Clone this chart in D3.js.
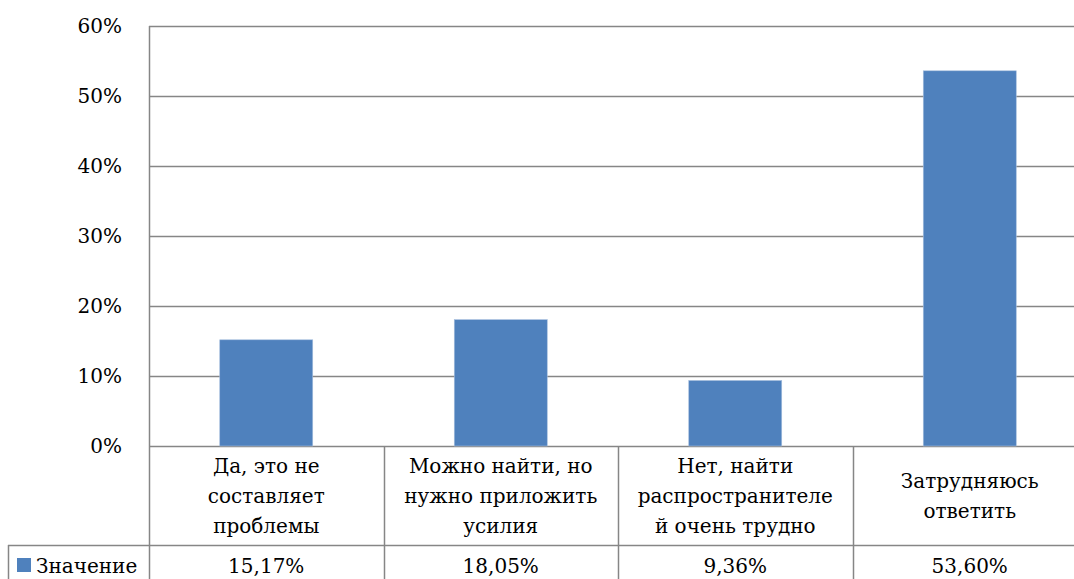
<!DOCTYPE html>
<html>
<head>
<meta charset="utf-8">
<script src="https://cdn.jsdelivr.net/npm/d3@7"></script>
<style>
  html, body { margin: 0; padding: 0; background: #fff; overflow: hidden; }
  svg { display: block; }
</style>
</head>
<body>
<script>
// Survey answers: can distributors be found?
const categories = [
  ["Да, это не", "составляет", "проблемы"],
  ["Можно найти, но", "нужно приложить", "усилия"],
  ["Нет, найти", "распространителе", "й очень трудно"],
  ["Затрудняюсь", "ответить"]
];
const values = [15.17, 18.05, 9.36, 53.60];
const valueLabels = ["15,17%", "18,05%", "9,36%", "53,60%"];
const seriesName = "Значение";
const yTicks = [0, 10, 20, 30, 40, 50, 60];

const W = 1074, H = 579;
const plot = { left: 149, right: 1087, top: 26, bottom: 446 };
const tableRow1 = 545, tableLeft = 8, tableBottom = 600;
const gridColor = "#868686";
const barColor = "#4F81BD";
const fontSize = 20;
const fontFamily = "DejaVu Serif";

const svg = d3.select("body").append("svg").attr("width", W).attr("height", H)
  .style("font-family", fontFamily);

const x = d3.scaleBand()
  .domain(d3.range(categories.length))
  .range([plot.left, plot.right])
  .paddingInner(0).paddingOuter(0);

const y = d3.scaleLinear().domain([0, 60]).range([plot.bottom, plot.top]);

// horizontal gridlines
svg.append("g").selectAll("line").data(yTicks).join("line")
  .attr("x1", plot.left).attr("x2", plot.right)
  .attr("y1", d => Math.round(y(d)) + 0.5).attr("y2", d => Math.round(y(d)) + 0.5)
  .attr("stroke", gridColor).attr("stroke-width", 1.5);

// y-axis labels
svg.append("g").selectAll("text").data(yTicks).join("text")
  .attr("x", 122).attr("y", d => y(d))
  .attr("dy", "0.35em")
  .attr("text-anchor", "end")
  .style("font-family", fontFamily)
  .attr("font-size", fontSize)
  .text(d => d + "%");

// bars
const barW = 93;
svg.append("g").selectAll("rect").data(values).join("rect")
  .attr("x", (d, i) => x(i) + x.bandwidth() / 2 - barW / 2)
  .attr("width", barW)
  .attr("y", d => y(d))
  .attr("height", d => plot.bottom - y(d))
  .attr("fill", barColor)
  .attr("stroke", "#A7BFDE").attr("stroke-width", 0.6);

// data table lines
const tbl = svg.append("g").attr("stroke", gridColor).attr("stroke-width", 1.5);
tbl.append("line").attr("x1", plot.left + 0.5).attr("x2", plot.left + 0.5)
  .attr("y1", plot.top).attr("y2", tableBottom);
d3.range(1, categories.length).forEach(i => {
  const xx = Math.round(x(i)) + 0.5;
  tbl.append("line").attr("x1", xx).attr("x2", xx)
    .attr("y1", plot.bottom).attr("y2", tableBottom);
});
tbl.append("line").attr("x1", tableLeft).attr("x2", plot.right)
  .attr("y1", tableRow1 + 0.5).attr("y2", tableRow1 + 0.5);
tbl.append("line").attr("x1", tableLeft + 0.5).attr("x2", tableLeft + 0.5)
  .attr("y1", tableRow1).attr("y2", tableBottom);

// category labels
const lineH = 30;
categories.forEach((lines, i) => {
  const cx = x(i) + x.bandwidth() / 2;
  const cy = (plot.bottom + tableRow1) / 2;
  const t = svg.append("text")
    .attr("text-anchor", "middle")
    .style("font-family", fontFamily)
    .attr("font-size", fontSize);
  lines.forEach((ln, k) => {
    t.append("tspan")
      .attr("x", cx)
      .attr("y", cy + (k - (lines.length - 1) / 2) * lineH)
      .attr("dy", "0.35em")
      .text(ln);
  });
});

// value row
const rowY = 566;
svg.append("g").selectAll("text").data(valueLabels).join("text")
  .attr("x", (d, i) => x(i) + x.bandwidth() / 2)
  .attr("y", rowY)
  .attr("dy", "0.35em")
  .attr("text-anchor", "middle")
  .style("font-family", fontFamily)
  .attr("font-size", fontSize)
  .text(d => d);

// legend key in the table
svg.append("rect").attr("x", 17).attr("y", 558).attr("width", 14).attr("height", 14)
  .attr("fill", barColor);
svg.append("text").attr("x", 36).attr("y", rowY).attr("dy", "0.35em")
  .style("font-family", fontFamily)
  .attr("font-size", fontSize).text(seriesName);
</script>
</body>
</html>
